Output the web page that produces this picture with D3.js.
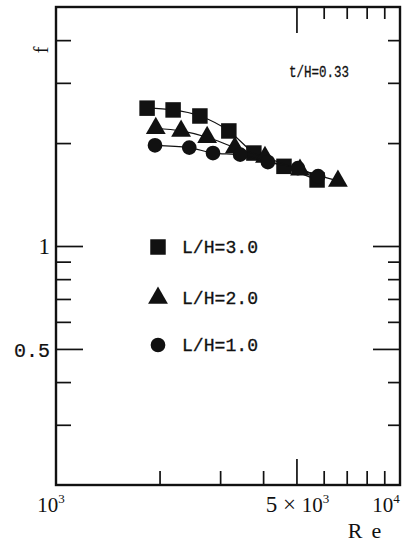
<!DOCTYPE html>
<html><head><meta charset="utf-8">
<script src="https://cdn.jsdelivr.net/npm/d3@7/dist/d3.min.js"></script>
<style>html,body{margin:0;padding:0;background:#fff;}svg{display:block;}</style>
</head><body>
<svg id="c" width="405" height="543"></svg>
<script>
// ---- data ----
const seriesNames = ["L/H=3.0", "L/H=2.0", "L/H=1.0"];
const reL3 = [1840, 2190, 2620, 3180, 3760, 4600, 5740];
const fL3  = [2.53, 2.50, 2.40, 2.17, 1.87, 1.71, 1.56];
const reL2 = [1950, 2310, 2750, 3310, 4050, 5120, 6600];
const fL2  = [2.21, 2.17, 2.08, 1.94, 1.82, 1.67, 1.55];
const reL1 = [1940, 2440, 2860, 3430, 4130, 5050, 5780];
const fL1  = [1.97, 1.94, 1.87, 1.85, 1.76, 1.69, 1.60];
const xTickValues = [2000, 3000, 4000, 5000, 6000, 7000, 8000, 9000];
const xTopTickValues = [5000, 6000, 7000, 8000, 9000];
const xMajor = [5000];
const yTickValues = [0.3, 0.4, 0.5, 0.6, 0.7, 0.8, 0.9, 1, 2, 3, 4];
const yMajor = [0.5, 1];
const xDomain = [1000, 10000];
const yDomain = [0.2, 5];
const annotation = "t/H=0.33";

// ---- layout ----
const L = 56, R = 400, T = 7, B = 485;
const svg = d3.select("#c");
const x = d3.scaleLog().domain(xDomain).range([L, R]);
const y = d3.scaleLog().domain(yDomain).range([B, T]);
const ink = "#111";

// axes (ticks inward)
function styleAxis(g, majors, lenMajor, lenMinor, attr, sign) {
  g.select(".domain").remove();
  g.selectAll(".tick text").remove();
  g.selectAll(".tick line")
    .attr(attr, d => sign * (majors.includes(d) ? lenMajor : lenMinor))
    .attr("stroke", ink).attr("stroke-width", 1.7);
}
svg.append("g").attr("transform", `translate(0,${B})`)
  .call(d3.axisBottom(x).tickValues(xTickValues))
  .call(g => styleAxis(g, xMajor, 26, 14, "y2", -1));
svg.append("g").attr("transform", `translate(0,${T})`)
  .call(d3.axisTop(x).tickValues(xTopTickValues))
  .call(g => styleAxis(g, xMajor, 26, 12, "y2", 1));
svg.append("g").attr("transform", `translate(${L},0)`)
  .call(d3.axisLeft(y).tickValues(yTickValues))
  .call(g => styleAxis(g, yMajor, 27, 15, "x2", 1));
svg.append("g").attr("transform", `translate(${R},0)`)
  .call(d3.axisRight(y).tickValues(yTickValues))
  .call(g => styleAxis(g, yMajor, 27, 12, "x2", -1));

// frame
svg.append("rect").attr("x", L).attr("y", T).attr("width", R - L).attr("height", B - T)
  .attr("fill", "none").attr("stroke", ink).attr("stroke-width", 2.4);

// tick labels
const serif = "'Liberation Serif', 'DejaVu Serif', serif";
const mono = "'Liberation Mono', 'DejaVu Sans Mono', monospace";
svg.append("text").attr("x", L - 6).attr("y", y(1) + 8).attr("text-anchor", "end")
  .attr("font-family", serif).attr("font-size", 23).attr("fill", ink).text("1");
svg.append("text").attr("x", L - 6).attr("y", y(0.5) + 8).attr("text-anchor", "end")
  .attr("font-family", mono).attr("font-size", 20).attr("fill", ink)
  .attr("stroke", ink).attr("stroke-width", 0.2).text("0.5");

function powLabel(xp, base, sup, pre) {
  const t = svg.append("text").attr("x", xp).attr("y", B + 27).attr("text-anchor", "middle")
    .attr("font-family", serif).attr("font-size", 21).attr("fill", ink);
  if (pre) t.append("tspan").attr("font-size", 23).text(pre);
  t.append("tspan").text(base);
  t.append("tspan").attr("dy", -9).attr("font-size", 13).text(sup);
}
powLabel(x(1000) - 5, "10", "3");
powLabel(x(5000) + 1, "10", "3", "5 × ");
powLabel(x(10000) - 14, "10", "4");

// axis titles
svg.append("text").attr("x", 369).attr("y", 538).attr("text-anchor", "middle")
  .attr("font-family", serif).attr("font-size", 22).attr("letter-spacing", 9).attr("fill", ink).text("Re");
svg.append("text").attr("transform", `translate(48,50) rotate(-90)`).attr("text-anchor", "middle")
  .attr("font-family", serif).attr("font-size", 20).attr("fill", ink).text("f");

// annotation
svg.append("text").attr("x", 289).attr("y", 77).attr("font-family", mono).attr("font-size", 17)
  .attr("textLength", 60).attr("lengthAdjust", "spacingAndGlyphs")
  .attr("stroke", ink).attr("stroke-width", 0.3).attr("fill", ink).text(annotation);

// series
const series = [
  {name: seriesNames[0], re: reL3, f: fL3, shape: d3.symbolSquare, size: 240},
  {name: seriesNames[1], re: reL2, f: fL2, shape: d3.symbolTriangle, size: 170},
  {name: seriesNames[2], re: reL1, f: fL1, shape: d3.symbolCircle, size: 170}
];
const line = d3.line().x(d => x(d[0])).y(d => y(d[1])).curve(d3.curveMonotoneX);
series.forEach(s => {
  const pts = s.re.map((r, i) => [r, s.f[i]]);
  svg.append("path").attr("d", line(pts)).attr("fill", "none").attr("stroke", ink).attr("stroke-width", 1.2);
  svg.append("g").selectAll("path").data(pts).join("path")
    .attr("transform", d => `translate(${x(d[0])},${y(d[1])})`)
    .attr("d", d3.symbol().type(s.shape).size(s.size)).attr("fill", ink);
});

// legend
const legY = [247, 298, 345];
series.forEach((s, i) => {
  svg.append("path").attr("transform", `translate(158,${legY[i]})`)
    .attr("d", d3.symbol().type(s.shape).size(s.size)).attr("fill", ink);
  svg.append("text").attr("x", 182).attr("y", legY[i] + 6).attr("font-family", mono)
    .attr("font-size", 18).attr("textLength", 76).attr("lengthAdjust", "spacingAndGlyphs")
    .attr("stroke", ink).attr("stroke-width", 0.3)
    .attr("fill", ink).text(s.name);
});
</script>
</body></html>
